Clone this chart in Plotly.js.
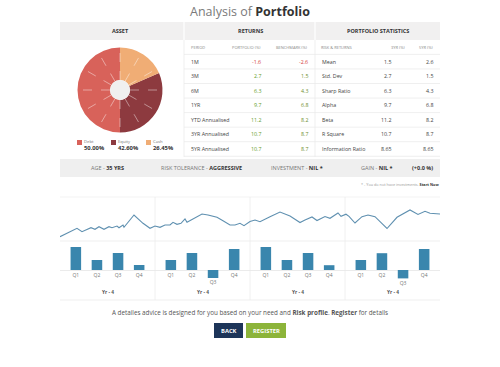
<!DOCTYPE html>
<html><head><meta charset="utf-8">
<script src="https://cdn.plot.ly/plotly-3.0.1.min.js"></script>
<style>html,body{margin:0;padding:0;background:#fff;overflow:hidden}#chart{width:500px;height:367px}</style>
</head><body><div id="chart"></div>
<script>
// ---------- DATA ----------
const assetNames = ['Debt', 'Equity', 'Cash'];
const assetPercentLabels = ['50.00%', '42.60%', '26.45%'];
const assetSliceShares = [50, 31.5, 18.5];

const returnPeriods = ['1M', '3M', '6M', '1YR', 'YTD Annualised', '3YR Annualised', '5YR Annualised'];
const portfolioReturns = [-1.6, 2.7, 6.3, 9.7, 11.2, 10.7, 10.7];
const benchmarkReturns = [-2.6, 1.5, 4.3, 6.8, 8.2, 8.7, 8.7];

const statNames = ['Mean', 'Std. Dev', 'Sharp Ratio', 'Alpha', 'Beta', 'R Square', 'Information Ratio'];
const stats3yr = ['1.5', '2.7', '6.3', '9.7', '11.2', '10.7', '8.65'];
const stats5yr = ['2.6', '1.5', '4.3', '6.8', '8.2', '8.7', '8.65'];

const profileLabels = ['AGE', 'RISK TOLERANCE', 'INVESTMENT', 'GAIN'];
const profileValues = ['35 YRS', 'AGGRESSIVE', 'NIL *', 'NIL *'];
const gainPercent = '(+0.0 %)';

const yearLabels = ['Yr - 4', 'Yr - 4', 'Yr - 4', 'Yr - 4'];
const quarterLabels = ['Q1', 'Q2', 'Q3', 'Q4'];
const quarterlyReturns = [
  [11.5, 5, 8.5, 2.5],
  [5, 8.5, -4, 10.5],
  [11.5, 5, 8.5, 2.4],
  [5, 8.4, -4.2, 10.5]
];

const trendT = [0, 8, 17, 22, 27, 31, 35, 39, 44, 49, 52, 57, 59, 63, 64, 74, 83, 90, 95, 100, 105, 110, 113, 117, 121, 125, 127, 133, 142, 148, 157, 163, 170, 175, 180, 184, 190, 195, 200, 210, 220, 230, 240, 245, 252, 257, 265, 270, 278, 281, 286, 289, 295, 302, 308, 315, 327, 337, 350, 358, 365, 370, 380];
const trendValue = [8.3, 12.3, 16.7, 13.3, 15.7, 17.3, 15.7, 18.3, 15.7, 18.3, 17.3, 19, 17.3, 20, 17.7, 30, 21.7, 16.7, 19, 17.7, 20, 20, 22.7, 20.7, 21.7, 26, 22.7, 25.7, 31, 30, 27.7, 24.3, 20, 20, 21.7, 19.3, 23.5, 25, 23.3, 28.3, 33, 29, 22.5, 25, 28, 24.5, 28.5, 26.7, 32, 28.7, 30.8, 28.7, 22, 28.3, 30, 28.3, 16.5, 27.7, 35, 30.5, 33.7, 31.7, 31];

// ---------- HELPERS ----------
const W = 500, H = 367;
const px = x => x / W;
const py = y => 1 - y / H;
const FONT = 'Open Sans, Noto Sans, sans-serif';
const annotations = [];
const shapes = [];
function txt(x, y, text, size, color, anchor) {
  annotations.push({x: px(x), y: py(y), xref: 'paper', yref: 'paper', text: text, showarrow: false,
    xanchor: anchor || 'center', yanchor: 'middle', borderpad: 0,
    font: {family: FONT, size: size, color: color}});
}
function rect(x0, y0, x1, y1, fill, layer) {
  shapes.push({type: 'rect', xref: 'paper', yref: 'paper', x0: px(x0), x1: px(x1), y0: py(y1), y1: py(y0),
    fillcolor: fill, line: {width: 0}, layer: layer || 'below'});
}
function hline(x0, x1, y, color, w) {
  shapes.push({type: 'line', xref: 'paper', yref: 'paper', x0: px(x0), x1: px(x1), y0: py(y), y1: py(y),
    line: {color: color, width: w || 1}, layer: 'below'});
}
function vline(x, y0, y1, color, w) {
  shapes.push({type: 'line', xref: 'paper', yref: 'paper', x0: px(x), x1: px(x), y0: py(y0), y1: py(y1),
    line: {color: color, width: w || 1}, layer: 'below'});
}

// ---------- TITLE ----------
txt(250, 11, '<span style="color:#7a7a7a">Analysis of </span><b>Portfolio</b>', 12.5, '#333');

// ---------- HEADER BAND ----------
rect(60, 22, 440, 40, '#f1f0f0');
vline(184, 22, 40, '#ffffff', 1.2);
vline(315, 22, 40, '#ffffff', 1.2);
txt(120, 31.5, '<b>ASSET</b>', 5.5, '#333');
txt(250, 31.5, '<b>RETURNS</b>', 5.5, '#333');
txt(378, 31.5, '<b>PORTFOLIO STATISTICS</b>', 5.5, '#333');

// ---------- TABLE GRID ----------
const rowY0 = 61.7, rowStep = 14.55;
for (let k = 0; k <= 7; k++) {
  const y = 54.4 + rowStep * k;
  hline(184, 440, y, '#ebebeb', 0.8);
}
vline(184, 40, 157, '#ebebeb', 0.8);
vline(315, 40, 157, '#ebebeb', 0.8);

// returns table
txt(190, 47, 'PERIOD', 4, '#888', 'left');
txt(262, 47, 'PORTFOLIO (%)', 4, '#888', 'right');
txt(309, 47, 'BENCHMARK (%)', 4, '#888', 'right');
const valColor = v => v < 0 ? '#d43a3a' : '#5f9d2a';
returnPeriods.forEach((p, i) => {
  const y = rowY0 + rowStep * i;
  txt(190, y, p, 5.3, '#444', 'left');
  txt(262, y, portfolioReturns[i].toFixed(1), 5.3, valColor(portfolioReturns[i]), 'right');
  txt(309, y, benchmarkReturns[i].toFixed(1), 5.3, benchmarkReturns[i] < 0 ? '#d43a3a' : '#6f8f2f', 'right');
});

// stats table
txt(320, 47, 'RISK &amp; RETURNS', 4, '#888', 'left');
txt(407, 47, '3YR (%)', 4, '#888', 'right');
txt(435, 47, '5YR (%)', 4, '#888', 'right');
statNames.forEach((s, i) => {
  const y = rowY0 + rowStep * i;
  txt(321, y, s, 5.3, '#444', 'left');
  txt(392, y, stats3yr[i], 5.3, '#444', 'right');
  txt(434, y, stats5yr[i], 5.3, '#444', 'right');
});

// ---------- PIE ----------
const pieCx = 120, pieCy = 90, pieR = 42.5, holeR = 10;
const assetColors = ['#d8625a', '#8d3a3f', '#f0ad75'];
// dashed spokes
for (let a = 0; a < 360; a += 30) {
  const r = a * Math.PI / 180;
  shapes.push({type: 'line', xref: 'paper', yref: 'paper', layer: 'above',
    x0: px(pieCx + holeR * Math.sin(r)), y0: py(pieCy - holeR * Math.cos(r)),
    x1: px(pieCx + (pieR - 1) * Math.sin(r)), y1: py(pieCy - (pieR - 1) * Math.cos(r)),
    line: {color: 'rgba(255,255,255,0.55)', width: 0.8, dash: 'dash'}});
}
shapes.push({type: 'circle', xref: 'paper', yref: 'paper', layer: 'above',
  x0: px(pieCx - holeR), x1: px(pieCx + holeR), y0: py(pieCy + holeR), y1: py(pieCy - holeR),
  fillcolor: '#f0f0f0', line: {width: 0}});
// legend
const legX = [77, 111, 146];
assetNames.forEach((n, i) => {
  rect(legX[i], 140, legX[i] + 5, 145, assetColors[i], 'above');
  txt(legX[i] + 6, 141.5, n, 4.2, '#777', 'left');
  txt(legX[i] + 6, 147.5, '<b>' + assetPercentLabels[i] + '</b>', 5.8, '#333', 'left');
});

// ---------- PROFILE BAND ----------
rect(60, 159, 440, 177, '#efefef');
const profX = [107.5, 201.5, 297, 376.5];
profileLabels.forEach((l, i) => {
  txt(profX[i], 168, '<span style="color:#777">' + l + ' - </span><b>' + profileValues[i] + '</b>', 5.5, '#333');
});
txt(422.5, 168, '<b>' + gainPercent + '</b>', 5.5, '#333');
txt(440, 184, '<span style="color:#999">* - You do not have investments. </span><b>Start Now</b>', 3.8, '#333', 'right');

// ---------- CHART AREA ----------
hline(60, 440, 197, '#f0f0f0', 0.8);
hline(60, 440, 241, '#ebebeb', 0.8);
hline(60, 440, 300, '#ebebeb', 0.8);
const barX = [], barY = [], lblY = [], lblT = [];
quarterlyReturns.forEach((yr, yi) => {
  yr.forEach((v, qi) => {
    barX.push(yi * 4.5 + qi);
    barY.push(v);
    lblY.push(v < 0 ? v - 2.5 : -3);
    lblT.push(quarterLabels[qi]);
  });
  annotations.push({x: yi * 4.5 + 1.5, xref: 'x', y: py(292), yref: 'paper', yanchor: 'middle',
    text: '<b>' + yearLabels[yi] + '</b>',
    showarrow: false, font: {family: FONT, size: 4.8, color: '#555'}});
  if (yi > 0) {
    shapes.push({type: 'line', xref: 'x', yref: 'paper', x0: yi * 4.5 - 0.75, x1: yi * 4.5 - 0.75,
      y0: py(300), y1: py(197), line: {color: '#ececec', width: 0.8}, layer: 'below'});
  }
});

// ---------- BUTTONS / FOOTER ----------
txt(250, 312, 'A detailes advice is designed for you based on your need and <b>Risk profile</b>. <b>Register</b> for details', 6.3, '#555');
rect(214, 323, 243, 338, '#1d3559', 'below');
rect(246, 323, 286, 338, '#8cb43a', 'below');
txt(228.5, 330.5, '<b>BACK</b>', 5.8, '#ffffff');
txt(266, 330.5, '<b>REGISTER</b>', 5.8, '#ffffff');

// ---------- TRACES ----------
const traces = [
  {type: 'pie', values: assetSliceShares, labels: assetNames, sort: false, direction: 'counterclockwise',
   rotation: 180, hole: holeR / pieR, textinfo: 'none', hoverinfo: 'label+percent',
   marker: {colors: assetColors, line: {width: 0}},
   domain: {x: [px(pieCx - pieR), px(pieCx + pieR)], y: [py(pieCy + pieR), py(pieCy - pieR)]}},
  {type: 'scatter', mode: 'lines', x: trendT, y: trendValue, xaxis: 'x2', yaxis: 'y2',
   line: {color: '#5f90b0', width: 1.1}, hoverinfo: 'skip'},
  {type: 'bar', x: barX, y: barY, width: 0.5, marker: {color: '#3a86ad'}, hoverinfo: 'y'},
  {type: 'scatter', mode: 'text', x: barX, y: lblY, text: lblT, textposition: 'middle center',
   textfont: {family: FONT, size: 5, color: '#777'}, hoverinfo: 'skip', cliponaxis: false}
];

const layout = {
  width: W, height: H, margin: {l: 0, r: 0, t: 0, b: 0}, showlegend: false,
  paper_bgcolor: '#ffffff', plot_bgcolor: 'rgba(0,0,0,0)',
  xaxis: {domain: [px(60), px(440)], range: [-0.75, 17.25], showgrid: false, zeroline: false,
    showticklabels: false, showline: false, fixedrange: true},
  yaxis: {domain: [py(300), py(241)], range: [-15, 14.5], showgrid: false, zeroline: true,
    zerolinecolor: '#e6e6e6', zerolinewidth: 0.8, showticklabels: false, fixedrange: true},
  xaxis2: {domain: [px(60), px(440)], range: [0, 380], anchor: 'y2', showgrid: false, zeroline: false,
    showticklabels: false, fixedrange: true},
  yaxis2: {domain: [py(241), py(197)], range: [4, 48], anchor: 'x2', showgrid: false, zeroline: false,
    showticklabels: false, fixedrange: true},
  annotations: annotations,
  shapes: shapes,
  font: {family: FONT}
};

Plotly.newPlot('chart', traces, layout, {displayModeBar: false, staticPlot: true});
</script>
</body></html>
